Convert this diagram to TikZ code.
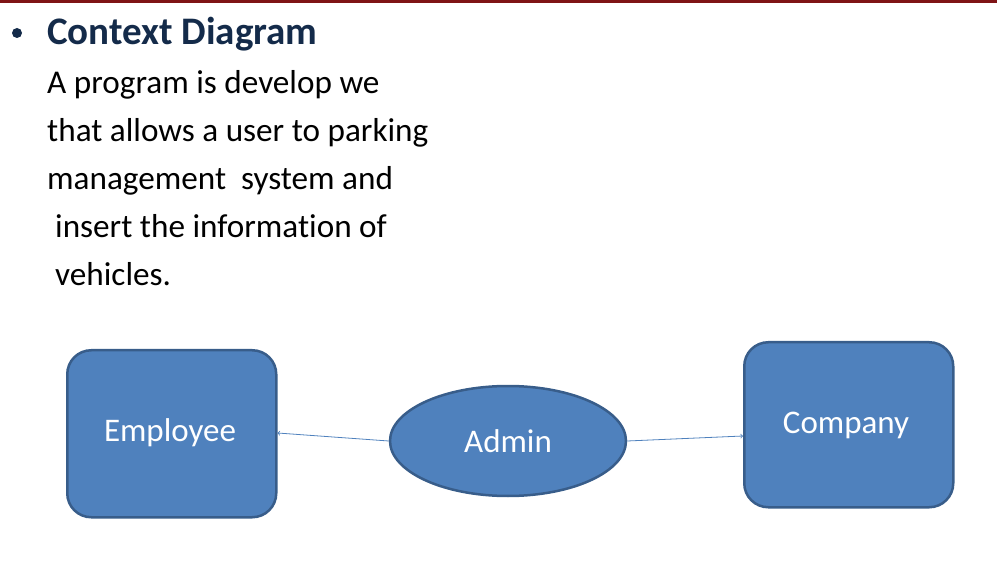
\documentclass[tikz,border=0pt]{standalone}
\usepackage{fontspec}
\setmainfont[Ligatures=CommonOff]{Carlito}
\usepackage{tikz}
\usetikzlibrary{arrows,shapes,positioning}
\definecolor{boxblue}{HTML}{4F81BD}
\definecolor{boxedge}{HTML}{385D8A}
\definecolor{titlenavy}{HTML}{142B4A}
\definecolor{barred}{HTML}{7F1416}
\begin{document}
\begin{tikzpicture}[x=1pt,y=-1pt,
    entity/.style={draw=boxedge,line width=2.5pt,fill=boxblue,rounded corners=24pt},
    label/.style={text=white,font=\fontsize{33}{38}\selectfont},
    process/.style={draw=boxedge,line width=2.5pt,fill=boxblue,ellipse,
      text=white,font=\fontsize{33}{38}\selectfont},
    flow/.style={draw=boxblue,line width=0.8pt,->,>=to},
    bodyline/.style={anchor=base west,inner sep=0pt,font=\fontsize{33.2}{38}\selectfont}]
        \useasboundingbox (0,0) rectangle (997,572);
        \fill[barred] (0,0) rectangle (997,3);
        \fill[titlenavy] (17,33) circle(5);
        \node[anchor=base west,inner sep=0pt,text=titlenavy,font=\fontsize{39}{46}\selectfont\bfseries] (title) at (47,45) {Context Diagram};
        \node[bodyline] (l1) at (47,94) {A program is develop\ we};
        \node[bodyline] (l2) at (47,142) {that allows a user to parking};
        \node[bodyline] (l3) at (47,190) {management\ \ system and};
        \node[bodyline] (l4) at (55,238) {insert the information of};
        \node[bodyline] (l5) at (55,286) {vehicles.};
        \path (66,349) node[entity,minimum width=209pt,minimum height=167pt,anchor=north west] (emp) {};
        \node[label] (emplabel) at (170,433) {Employee};
        \path (743,341) node[entity,minimum width=209pt,minimum height=165pt,anchor=north west] (comp) {};
        \node[label] (complabel) at (846,425) {Company};
        \node[process,minimum width=236pt,minimum height=110pt] (admin) at (508,441) {Admin};
        {
          \draw[flow] (admin.west) to (emp.east |- 0,433);
          \draw[flow] (admin.east) to (comp.west |- 0,436);
        }
      \end{tikzpicture}
\end{document}
